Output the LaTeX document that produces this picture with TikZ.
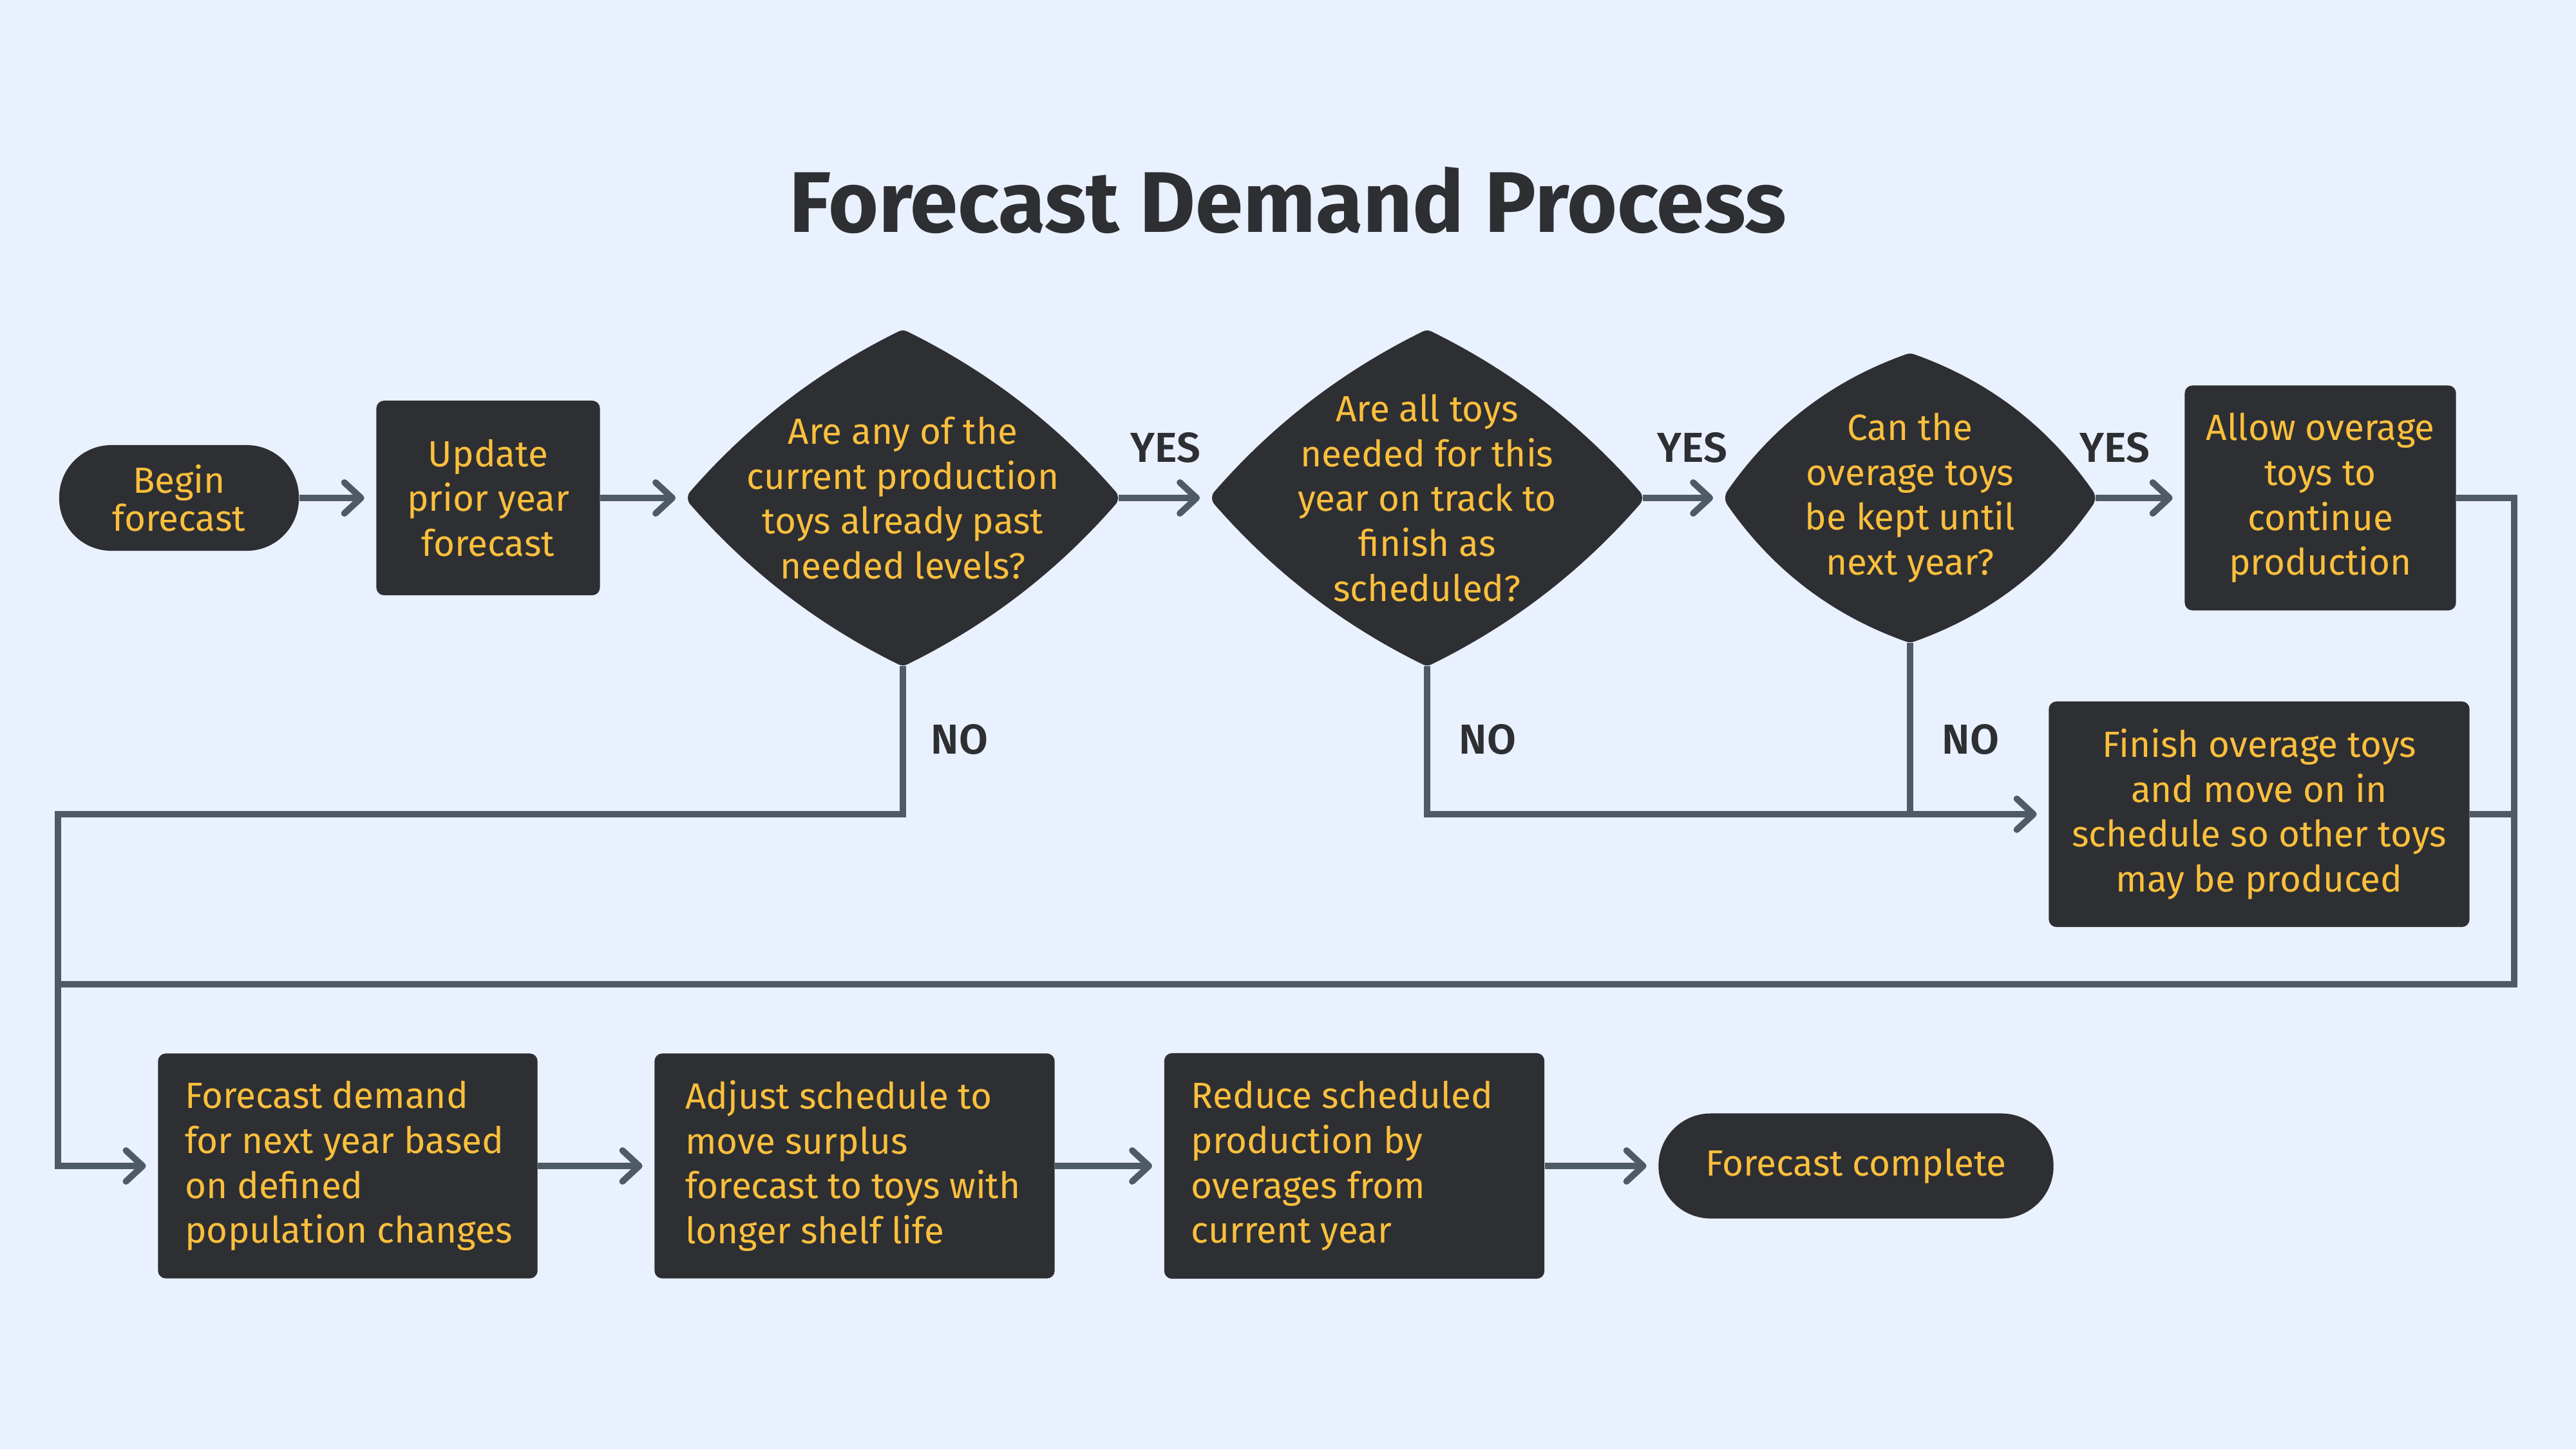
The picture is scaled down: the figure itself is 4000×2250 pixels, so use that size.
\documentclass[tikz,border=0pt]{standalone}
\usepackage{fontspec}
\setmainfont{Fira Sans}
\newfontfamily\semib{Fira Sans SemiBold}
\usetikzlibrary{arrows.meta,calc}
\definecolor{bgc}{HTML}{EAF1FE}
\definecolor{dk}{HTML}{2E2F33}
\definecolor{yl}{HTML}{FABF3C}
\definecolor{lnc}{HTML}{4E5B67}

% rounded, slightly bulging diamond: cx cy hw hh bulge joinwidth (all px)
\newcommand{\rdiamond}[6]{%
  \pgfmathsetmacro{\rdW}{#3-#6/2}%
  \pgfmathsetmacro{\rdH}{#4-#6/2}%
  \pgfmathsetmacro{\rdL}{100*veclen(\rdW/100,\rdH/100)}%
  \pgfmathsetmacro{\rdnx}{\rdH/\rdL*(#5)}%
  \pgfmathsetmacro{\rdny}{\rdW/\rdL*(#5)}%
  \fill[dk, draw=dk, line width=#6*0.2845pt, line join=round]
   (#1, #2-\rdH) .. controls (#1+\rdW/3+\rdnx, #2-2*\rdH/3-\rdny) and (#1+2*\rdW/3+\rdnx, #2-\rdH/3-\rdny) ..
   (#1+\rdW, #2) .. controls (#1+2*\rdW/3+\rdnx, #2+\rdH/3+\rdny) and (#1+\rdW/3+\rdnx, #2+2*\rdH/3+\rdny) ..
   (#1, #2+\rdH) .. controls (#1-\rdW/3-\rdnx, #2+2*\rdH/3+\rdny) and (#1-2*\rdW/3-\rdnx, #2+\rdH/3+\rdny) ..
   (#1-\rdW, #2) .. controls (#1-2*\rdW/3-\rdnx, #2-\rdH/3-\rdny) and (#1-\rdW/3-\rdnx, #2-2*\rdH/3-\rdny) .. cycle;
}

\tikzset{
  nodetext/.style={text=yl, font=\fontsize{16.1pt}{19.8pt}\selectfont, inner sep=0pt},
  box/.style={nodetext, fill=dk, rounded corners=0.12cm, align=center},
  pill/.style={nodetext, fill=dk, rounded corners=0.81cm, align=center},
  dtext/.style={nodetext, align=center},
  ltext/.style={nodetext, align=left, anchor=west},
  lbl/.style={text=dk, font=\semib\fontsize{18.5pt}{20pt}\selectfont, inner sep=0pt},
  ln/.style={draw=lnc, line width=0.1cm},
  arr/.style={-{Straight Barb[length=0.26cm,width=0.48cm,round]}, shorten >=0.18cm},
}

\begin{document}
\begin{tikzpicture}[x=0.01cm, y=-0.01cm]
\fill[bgc] (0,0) rectangle (4000,2250);
\useasboundingbox (0,0) rectangle (4000,2250);

\node[text=dk, font=\bfseries\fontsize{38pt}{40pt}\selectfont, anchor=base, inner sep=0pt] (title) at (2000,360) {Forecast Demand Process};

% top row
\node[pill, minimum width=3.72cm, minimum height=1.64cm, font=\fontsize{16.1pt}{16.8pt}\selectfont] (begin) at (278,773) {Begin\\forecast};
\node[box, minimum width=3.47cm, minimum height=3.02cm] (update) at (758,773) {Update\\prior year\\forecast};

\rdiamond{1402}{773}{334}{260}{27}{30}
\rdiamond{2216}{773}{334}{260}{27}{30}
\rdiamond{2966}{773}{287}{224}{36}{40}

\node[dtext, minimum width=6.68cm, minimum height=5.2cm] (d1) at (1402,773) {Are any of the\\current production\\toys already past\\needed levels?};
\node[dtext, minimum width=6.68cm, minimum height=5.2cm] (d2) at (2216,773) {Are all toys\\needed for this\\year on track to\\finish as\\scheduled?};
\node[dtext, minimum width=5.74cm, minimum height=4.48cm] (d3) at (2966,773) {Can the\\overage toys\\be kept until\\next year?};

\node[box, minimum width=4.21cm, minimum height=3.49cm] (allow) at (3603,773) {Allow overage\\toys to\\continue\\production};
\node[box, minimum width=6.53cm, minimum height=3.5cm] (finish) at (3508,1264) {Finish overage toys\\and move on in\\schedule so other toys\\may be produced};

% bottom row
\node[box, minimum width=5.89cm, minimum height=3.49cm] (b1) at (540,1810) {};
\node[ltext] (b1t) at ($(b1.west)+(42,0)$) {Forecast demand\\for next year based\\on defined\\population changes};
\node[box, minimum width=6.21cm, minimum height=3.49cm] (b2) at (1327,1810) {};
\node[ltext] (b2t) at ($(b2.west)+(48,0)$) {Adjust schedule to\\move surplus\\forecast to toys with\\longer shelf life};
\node[box, minimum width=5.9cm, minimum height=3.5cm] (b3) at (2103,1810) {};
\node[ltext] (b3t) at ($(b3.west)+(42,0)$) {Reduce scheduled\\production by\\overages from\\current year};
\node[pill, minimum width=6.13cm, minimum height=1.63cm] (end) at (2882,1810) {Forecast complete};

% routing points
\coordinate (rx) at (3904,1528);
\coordinate (lx) at (90,1528);
\coordinate (ny) at (90,1264);

% connectors
\draw[ln, arr] (begin.east) -- (update.west);
\draw[ln, arr] (update.east) -- (d1.west);
\draw[ln, arr] (d1.east) -- (d2.west);
\draw[ln, arr] (d2.east) -- (d3.west);
\draw[ln, arr] (d3.east) -- (allow.west);
\draw[ln] (allow.east) -| (rx) -- (lx);
\draw[ln] (finish.east) -- (finish.east -| rx);
\draw[ln, arr] (d1.south) |- (ny) |- (b1.west);
\draw[ln, arr] (d2.south) |- (finish.west);
\draw[ln] (d3.south) -- (d3.south |- finish.west);
\draw[ln, arr] (b1.east) -- (b2.west);
\draw[ln, arr] (b2.east) -- (b3.west);
\draw[ln, arr] (b3.east) -- (end.west);

% labels
\node[lbl] (yes1) at (1810,695) {YES};
\node[lbl] (yes2) at (2628,695) {YES};
\node[lbl] (yes3) at (3284,695) {YES};
\node[lbl] (no1) at (1490,1148) {NO};
\node[lbl] (no2) at (2310,1148) {NO};
\node[lbl] (no3) at (3060,1148) {NO};
\end{tikzpicture}
\end{document}
